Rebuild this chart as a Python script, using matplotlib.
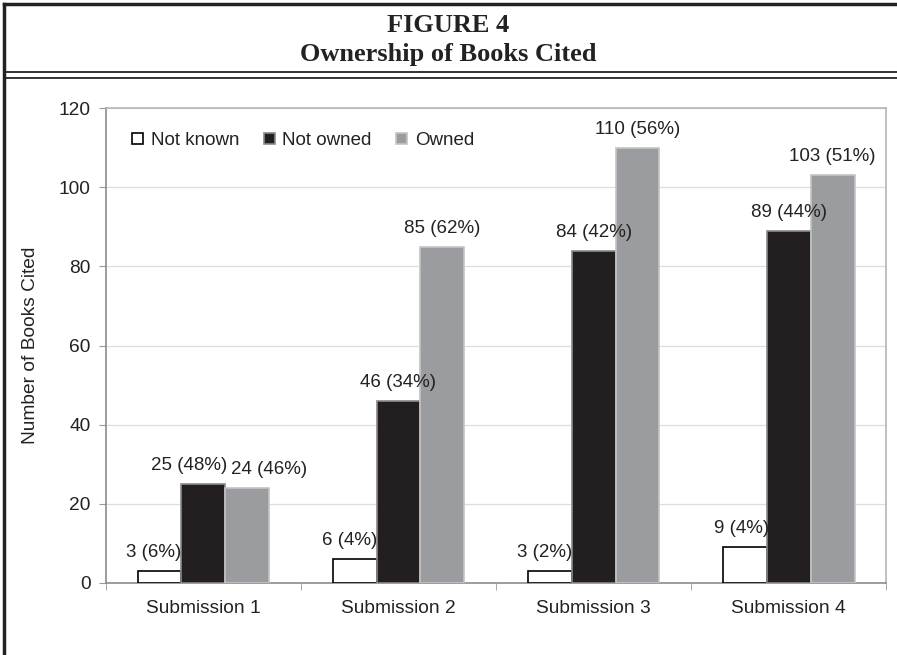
import numpy as np
import matplotlib.pyplot as plt
from matplotlib.lines import Line2D

categories = ['Submission 1', 'Submission 2', 'Submission 3', 'Submission 4']
not_known = [3, 6, 3, 9]
not_known_pct = [6, 4, 2, 4]
not_owned = [25, 46, 84, 89]
not_owned_pct = [48, 34, 42, 44]
owned = [24, 85, 110, 103]
owned_pct = [46, 62, 56, 51]

sans = ['Liberation Sans', 'DejaVu Sans']
serif = ['Liberation Serif', 'DejaVu Serif']
plt.rcParams['font.family'] = sans

fig = plt.figure(figsize=(8.97, 6.55), dpi=100)
ax = fig.add_axes([0.118, 0.110, 0.870, 0.725])

x = np.arange(len(categories))
w = 0.225
# label nudges (x, in category units) so labels don't run into neighbouring bars
nudge = {(0, 0): -0.03, (0, 1): -0.028, (0, 2): -0.028, (0, 3): -0.015,
         (1, 0): -0.074, (2, 0): 0.113}
series = [
    ('Not known', not_known, not_known_pct, 'white', 'black'),
    ('Not owned', not_owned, not_owned_pct, '#231f20', '#8a8a8a'),
    ('Owned', owned, owned_pct, '#9b9ca0', '#c4c4c4'),
]
for k, (name, vals, pcts, fc, ec) in enumerate(series):
    pos = x + (k - 1) * w
    ax.bar(pos, vals, width=w, color=fc, edgecolor=ec, linewidth=1.2,
           label=name, zorder=3)
    for i, (px, v, p) in enumerate(zip(pos, vals, pcts)):
        ax.text(px + nudge.get((k, i), 0), v + 2.5, f'{v} ({p}%)', ha='center',
                va='bottom', fontsize=13.5, color='#222222', zorder=4)

ax.set_xlim(-0.5, len(categories) - 0.5)
ax.set_ylim(0, 120)
ax.set_yticks(np.arange(0, 121, 20))
ax.set_xticks(x)
ax.set_xticklabels(categories)
ax.set_xticks(np.arange(-0.5, len(categories), 1), minor=True)
ax.tick_params(axis='x', which='major', length=0, pad=12, labelsize=13.8,
               labelcolor='#222222')
ax.tick_params(axis='x', which='minor', length=5, color='#999999')
ax.tick_params(axis='y', length=5, color='#999999', labelsize=13.8,
               labelcolor='#222222', pad=6)
ax.yaxis.grid(True, color='#dddddd', linewidth=0.9, zorder=0)
ax.set_axisbelow(True)
for s in ['left', 'bottom']:
    ax.spines[s].set_color('#8c8c8c')
    ax.spines[s].set_linewidth(1.2)
for s in ['top', 'right']:
    ax.spines[s].set_color('#b5b5b5')
    ax.spines[s].set_linewidth(1.2)
ax.set_ylabel('Number of Books Cited', fontsize=13.8, color='#222222', labelpad=14)

ax.legend(loc='upper left', bbox_to_anchor=(0.012, 0.985), ncol=3, frameon=False,
          fontsize=13.5, handlelength=0.6, handleheight=0.6, handletextpad=0.4,
          columnspacing=1.3, labelcolor='#222222')

# title block and frame
fig.text(0.5, 1 - 25 / 655, 'FIGURE 4', ha='center', va='center',
         fontsize=19, fontweight='bold', family=serif, color='#222222')
fig.text(0.5, 1 - 54 / 655, 'Ownership of Books Cited', ha='center', va='center',
         fontsize=19, fontweight='bold', family=serif, color='#222222')
fig.add_artist(Line2D([4 / 897, 1], [1 - 4 / 655] * 2, color='#222222', lw=2.5))
fig.add_artist(Line2D([4 / 897] * 2, [0, 1 - 4 / 655], color='#222222', lw=2.5))
fig.add_artist(Line2D([4 / 897, 1], [1 - 72 / 655] * 2, color='#222222', lw=1.3))
fig.add_artist(Line2D([4 / 897, 1], [1 - 77.5 / 655] * 2, color='#222222', lw=1.3))

fig.savefig('out.png', dpi=100)
